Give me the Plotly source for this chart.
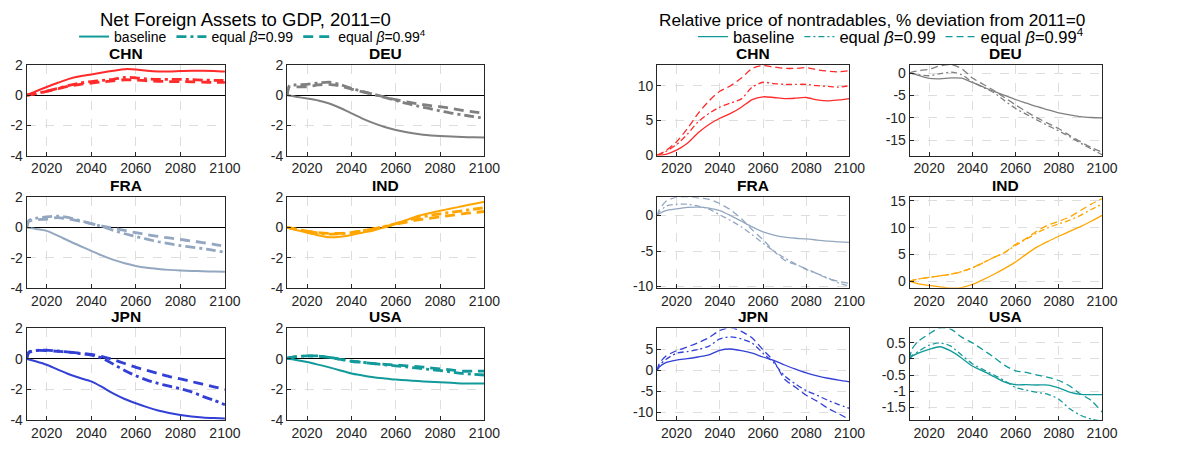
import plotly.graph_objects as go

# Common year grid for all series
YEARS = [2011, 2012, 2015, 2020, 2025, 2030, 2035, 2040, 2045, 2050,
         2055, 2060, 2065, 2070, 2075, 2080, 2085, 2090, 2095, 2100]

COUNTRIES = ["CHN", "DEU", "FRA", "IND", "JPN", "USA"]
SCENARIOS = ["baseline", "equal <i>β</i>=0.99", "equal <i>β</i>=0.99<sup>4</sup>"]

# Net foreign assets to GDP (2011=0): baseline / equal beta=0.99 / equal beta=0.99^4
nfa_chn_base = [0, 0.06, 0.25, 0.54, 0.82, 1.08, 1.25, 1.37, 1.5, 1.62, 1.72, 1.7, 1.62, 1.57, 1.57, 1.6, 1.62, 1.62, 1.6, 1.56]
nfa_chn_b99 = [0, 0.02, 0.1, 0.26, 0.45, 0.65, 0.8, 0.9, 0.98, 1.05, 1.18, 1.15, 1.08, 1.05, 1.05, 1.05, 1.03, 1.0, 0.98, 0.97]
nfa_chn_b99_4 = [0, 0.02, 0.1, 0.25, 0.42, 0.6, 0.72, 0.8, 0.88, 0.95, 1.02, 1.0, 0.95, 0.92, 0.9, 0.9, 0.88, 0.86, 0.85, 0.85]

nfa_deu_base = [0, -0.02, -0.1, -0.22, -0.35, -0.55, -0.85, -1.2, -1.55, -1.85, -2.1, -2.3, -2.45, -2.57, -2.65, -2.7, -2.74, -2.77, -2.79, -2.8]
nfa_deu_b99 = [0, 0.62, 0.68, 0.72, 0.8, 0.86, 0.7, 0.45, 0.25, 0.05, -0.15, -0.35, -0.55, -0.72, -0.88, -1.04, -1.18, -1.3, -1.42, -1.52]
nfa_deu_b99_4 = [0, 0.55, 0.55, 0.55, 0.68, 0.72, 0.6, 0.4, 0.22, 0.05, -0.12, -0.3, -0.45, -0.58, -0.68, -0.76, -0.88, -1.0, -1.1, -1.2]

nfa_fra_base = [0, -0.02, -0.1, -0.23, -0.55, -0.9, -1.23, -1.55, -1.87, -2.15, -2.37, -2.55, -2.67, -2.75, -2.81, -2.85, -2.88, -2.9, -2.92, -2.93]
nfa_fra_b99 = [0, 0.45, 0.6, 0.7, 0.75, 0.65, 0.45, 0.25, 0.05, -0.2, -0.42, -0.6, -0.78, -0.95, -1.08, -1.2, -1.3, -1.4, -1.52, -1.65]
nfa_fra_b99_4 = [0, 0.4, 0.5, 0.55, 0.65, 0.55, 0.4, 0.25, 0.08, -0.05, -0.2, -0.35, -0.48, -0.6, -0.7, -0.8, -0.9, -1.0, -1.12, -1.25]

nfa_ind_base = [0, -0.05, -0.17, -0.35, -0.52, -0.65, -0.62, -0.5, -0.35, -0.2, 0.0, 0.25, 0.5, 0.75, 0.93, 1.1, 1.25, 1.4, 1.55, 1.7]
nfa_ind_b99 = [0, -0.03, -0.12, -0.25, -0.37, -0.45, -0.42, -0.35, -0.22, -0.1, 0.07, 0.25, 0.45, 0.65, 0.78, 0.9, 1.0, 1.1, 1.2, 1.3]
nfa_ind_b99_4 = [0, -0.03, -0.12, -0.25, -0.35, -0.4, -0.4, -0.35, -0.22, -0.1, 0.05, 0.2, 0.35, 0.5, 0.6, 0.7, 0.8, 0.9, 0.98, 1.05]

nfa_jpn_base = [0, -0.03, -0.15, -0.38, -0.7, -1.0, -1.25, -1.47, -1.85, -2.27, -2.62, -2.9, -3.15, -3.37, -3.53, -3.66, -3.76, -3.83, -3.87, -3.9]
nfa_jpn_b99 = [0, 0.4, 0.55, 0.58, 0.52, 0.45, 0.35, 0.25, 0.05, -0.35, -0.75, -1.1, -1.38, -1.6, -1.78, -1.95, -2.15, -2.45, -2.7, -3.0]
nfa_jpn_b99_4 = [0, 0.45, 0.55, 0.55, 0.5, 0.45, 0.38, 0.3, 0.15, -0.05, -0.3, -0.55, -0.75, -0.95, -1.15, -1.3, -1.48, -1.65, -1.82, -2.0]

nfa_usa_base = [0, -0.01, -0.07, -0.2, -0.37, -0.55, -0.75, -0.95, -1.08, -1.2, -1.28, -1.35, -1.4, -1.45, -1.49, -1.52, -1.56, -1.6, -1.6, -1.6]
nfa_usa_b99 = [0.05, 0.08, 0.15, 0.2, 0.2, 0.1, -0.02, -0.15, -0.22, -0.3, -0.38, -0.45, -0.52, -0.6, -0.68, -0.75, -0.85, -0.95, -1.0, -1.05]
nfa_usa_b99_4 = [0.05, 0.08, 0.15, 0.2, 0.18, 0.1, -0.02, -0.15, -0.22, -0.3, -0.35, -0.4, -0.45, -0.5, -0.57, -0.65, -0.72, -0.8, -0.8, -0.8]

# Relative price of nontradables, % deviation from 2011
pn_chn_base = [0, -0.02, 0.1, 0.7, 1.7, 3.2, 4.4, 5.3, 6.0, 6.9, 8.0, 8.4, 8.3, 8.15, 8.2, 8.3, 7.95, 7.8, 7.95, 8.15]
pn_chn_b99 = [0, 0.1, 0.5, 1.5, 3.0, 4.8, 6.0, 6.9, 7.5, 8.1, 9.8, 10.5, 10.3, 10.2, 10.2, 10.2, 10.0, 9.9, 9.8, 10.0]
pn_chn_b99_4 = [0, 0.1, 0.6, 1.9, 3.8, 6.0, 7.8, 9.2, 10.0, 11.1, 12.5, 12.9, 12.7, 12.5, 12.5, 12.6, 12.3, 12.1, 12.0, 12.2]

pn_deu_base = [0, -0.1, -0.5, -1.2, -1.3, -1.1, -1.15, -2.1, -3.1, -4.1, -5.0, -5.9, -6.7, -7.5, -8.2, -8.9, -9.3, -9.7, -9.9, -10.0]
pn_deu_b99 = [0, -0.1, -0.35, -0.6, -0.15, 0.2, -0.35, -2.0, -3.2, -4.4, -6.2, -7.9, -9.2, -10.5, -11.7, -12.9, -14.2, -15.6, -16.9, -18.2]
pn_deu_b99_4 = [0, 0.2, 0.5, 0.85, 1.6, 1.9, 1.0, -1.1, -2.5, -3.9, -5.5, -7.1, -8.6, -10.0, -11.2, -12.4, -13.9, -15.3, -16.6, -17.6]

pn_fra_base = [0, 0.25, 0.7, 0.95, 1.15, 1.2, 1.05, 0.7, 0.0, -0.8, -1.6, -2.3, -2.75, -3.05, -3.2, -3.3, -3.45, -3.6, -3.7, -3.77]
pn_fra_b99 = [0, 0.5, 1.3, 1.6, 1.6, 1.35, 0.9, 0.1, -0.7, -1.6, -2.7, -3.9, -5.0, -6.0, -6.8, -7.6, -8.2, -8.8, -9.5, -10.0]
pn_fra_b99_4 = [0, 0.8, 2.0, 2.6, 2.65, 2.5, 2.3, 1.7, 0.8, -0.45, -2.0, -3.4, -5.0, -6.3, -6.9, -7.5, -8.2, -8.9, -9.3, -9.55]

pn_ind_base = [0, -0.15, -0.5, -0.8, -1.05, -1.3, -1.2, -0.6, 0.3, 1.3, 2.4, 3.6, 5.05, 6.4, 7.45, 8.4, 9.3, 10.2, 11.2, 12.3]
pn_ind_b99 = [0, 0.12, 0.4, 0.7, 1.0, 1.3, 1.8, 2.5, 3.45, 4.45, 5.35, 6.7, 7.85, 9.05, 10.0, 10.7, 11.4, 12.3, 13.4, 14.4]
pn_ind_b99_4 = [0, 0.12, 0.4, 0.7, 1.0, 1.3, 1.8, 2.5, 3.45, 4.45, 5.4, 6.9, 8.0, 9.4, 10.5, 11.2, 12.0, 13.2, 14.4, 15.4]

pn_jpn_base = [0, 0.8, 1.85, 2.45, 2.8, 3.2, 3.7, 4.8, 5.1, 4.7, 4.1, 3.2, 2.4, 1.3, 0.3, -0.6, -1.3, -1.85, -2.3, -2.7]
pn_jpn_b99 = [0, 1.2, 2.6, 4.1, 4.5, 5.0, 5.8, 7.5, 8.0, 7.5, 6.5, 4.1, 1.8, -1.3, -3.2, -4.8, -5.9, -7.1, -8.1, -9.0]
pn_jpn_b99_4 = [0, 1.6, 3.4, 4.7, 5.6, 6.6, 7.8, 9.5, 10.2, 9.3, 7.7, 4.9, 2.2, -2.1, -4.0, -5.9, -7.3, -9.0, -10.3, -11.7]

pn_usa_base = [0, 0.08, 0.18, 0.3, 0.38, 0.25, 0.03, -0.22, -0.38, -0.55, -0.72, -0.8, -0.8, -0.81, -0.81, -0.9, -1.03, -1.1, -1.11, -1.11]
pn_usa_b99 = [0, 0.1, 0.23, 0.43, 0.5, 0.4, 0.12, -0.15, -0.33, -0.5, -0.68, -0.89, -0.97, -1.04, -1.1, -1.25, -1.55, -1.75, -1.87, -1.93]
pn_usa_b99_4 = [0, 0.3, 0.55, 0.78, 0.96, 0.93, 0.68, 0.5, 0.28, 0.05, -0.2, -0.37, -0.42, -0.5, -0.57, -0.67, -0.84, -1.09, -1.29, -1.65]

NFA = {
    "CHN": (nfa_chn_base, nfa_chn_b99, nfa_chn_b99_4),
    "DEU": (nfa_deu_base, nfa_deu_b99, nfa_deu_b99_4),
    "FRA": (nfa_fra_base, nfa_fra_b99, nfa_fra_b99_4),
    "IND": (nfa_ind_base, nfa_ind_b99, nfa_ind_b99_4),
    "JPN": (nfa_jpn_base, nfa_jpn_b99, nfa_jpn_b99_4),
    "USA": (nfa_usa_base, nfa_usa_b99, nfa_usa_b99_4),
}
PN = {
    "CHN": (pn_chn_base, pn_chn_b99, pn_chn_b99_4),
    "DEU": (pn_deu_base, pn_deu_b99, pn_deu_b99_4),
    "FRA": (pn_fra_base, pn_fra_b99, pn_fra_b99_4),
    "IND": (pn_ind_base, pn_ind_b99, pn_ind_b99_4),
    "JPN": (pn_jpn_base, pn_jpn_b99, pn_jpn_b99_4),
    "USA": (pn_usa_base, pn_usa_b99, pn_usa_b99_4),
}

X_TICKS = [2020, 2040, 2060, 2080, 2100]
NFA_TICKS = [-4, -2, 0, 2]
PN_TICKS = {
    "CHN": [0, 5, 10],
    "DEU": [-15, -10, -5, 0],
    "FRA": [-10, -5, 0],
    "IND": [0, 5, 10, 15],
    "JPN": [-10, -5, 0, 5],
    "USA": [-1.5, -1, -0.5, 0, 0.5],
}
PN_RANGE = {
    "CHN": [-0.1, 13.0],
    "DEU": [-18.4, 1.8],
    "FRA": [-10.2, 2.6],
    "IND": [-1.25, 15.7],
    "JPN": [-11.8, 10.0],
    "USA": [-1.9, 0.95],
}

COLORS = {
    "CHN": "#ff2b2b",
    "DEU": "#808080",
    "FRA": "#94a7c1",
    "IND": "#ffa500",
    "JPN": "#3340d6",
    "USA": "#129a9a",
}

W, H = 1197, 458
FONT = "Liberation Sans, Arial, sans-serif"
INK = "#262626"

# Pixel boxes of the panels
LEFT_COLS = [(27, 228), (291, 491)]
RIGHT_COLS = [(666, 861), (922, 1117)]
ROWS = [(59, 153), (196, 290), (332, 427)]


def xdom(c):
    return [c[0] / W, c[1] / W]


def ydom(r):
    return [1 - r[1] / H, 1 - r[0] / H]


def fmt(v):
    return ("%g" % v)


fig = go.Figure()
layout_axes = {}
annotations = []

panel = 0
for block, data, cols in (("nfa", NFA, LEFT_COLS), ("pn", PN, RIGHT_COLS)):
    for i, cty in enumerate(COUNTRIES):
        panel += 1
        r, c = divmod(i, 2)
        xa = "x" if panel == 1 else "x%d" % panel
        ya = "y" if panel == 1 else "y%d" % panel
        color = COLORS[cty]
        if block == "nfa":
            widths = (2.0, 2.8, 2.8)
            dashes = ("solid", "10px,4px,3px,4px", "10px,6px")
        else:
            widths = (1.3, 1.3, 1.3)
            dashes = ("solid", "6px,3px,2px,3px", "7px,4px")
        for k, series in enumerate(data[cty]):
            fig.add_trace(go.Scatter(
                x=YEARS, y=series, xaxis=xa, yaxis=ya, mode="lines",
                line=dict(color=color, width=widths[k], dash=dashes[k],
                          shape="spline", smoothing=0.7),
                name=SCENARIOS[k],
                showlegend=(cty == "USA"),
                legend="legend" if block == "nfa" else "legend2",
                hoverinfo="skip",
            ))

        if block == "nfa":
            yticks = NFA_TICKS
            yrange = [-4, 2]
        else:
            yticks = PN_TICKS[cty]
            yrange = PN_RANGE[cty]

        common = dict(
            showline=True, mirror=True, linecolor=INK, linewidth=1,
            ticks="inside", ticklen=4, tickcolor=INK,
            showgrid=True, gridcolor="#dedede", griddash="dash", gridwidth=1,
            tickfont=dict(family=FONT, size=14, color=INK),
        )
        key_x = "xaxis" if panel == 1 else "xaxis%d" % panel
        key_y = "yaxis" if panel == 1 else "yaxis%d" % panel
        layout_axes[key_x] = dict(
            common, domain=xdom(cols[c]), anchor=ya, range=[2011, 2100],
            tickvals=X_TICKS, ticktext=[str(t) for t in X_TICKS],
            zeroline=False,
        )
        layout_axes[key_y] = dict(
            common, domain=ydom(ROWS[r]), anchor=xa, range=yrange,
            tickvals=yticks, ticktext=[fmt(t) for t in yticks],
            zeroline=(block == "nfa"), zerolinecolor="#000000", zerolinewidth=1,
        )
        # panel title
        cx = (cols[c][0] + cols[c][1]) / 2 / W
        annotations.append(dict(
            text="<b>%s</b>" % cty, x=cx, y=1 - (ROWS[r][0] - 12) / H,
            xref="paper", yref="paper", showarrow=False,
            xanchor="center", yanchor="middle",
            font=dict(family=FONT, size=15.5, color="#000000"),
        ))

annotations.append(dict(
    text="Net Foreign Assets to GDP, 2011=0", x=249 / W, y=1 - 12 / H,
    xref="paper", yref="paper", showarrow=False, xanchor="center", yanchor="middle",
    font=dict(family=FONT, size=18.5, color="#000000"),
))
annotations.append(dict(
    text="Relative price of nontradables, % deviation from 2011=0", x=884 / W, y=1 - 12 / H,
    xref="paper", yref="paper", showarrow=False, xanchor="center", yanchor="middle",
    font=dict(family=FONT, size=17.2, color="#000000"),
))

fig.update_layout(
    width=W, height=H,
    margin=dict(l=0, r=0, t=0, b=0),
    paper_bgcolor="white", plot_bgcolor="white",
    annotations=annotations,
    legend=dict(orientation="h", x=256 / W, y=1 - 30 / H, xanchor="center", yanchor="middle",
                font=dict(family=FONT, size=14, color="#000000"),
                bgcolor="rgba(0,0,0,0)", itemwidth=30, tracegroupgap=0),
    legend2=dict(orientation="h", x=903 / W, y=1 - 30 / H, xanchor="center", yanchor="middle",
                 font=dict(family=FONT, size=16.5, color="#000000"),
                 bgcolor="rgba(0,0,0,0)", itemwidth=30, tracegroupgap=0),
    **layout_axes,
)

fig.write_html("out.html")
